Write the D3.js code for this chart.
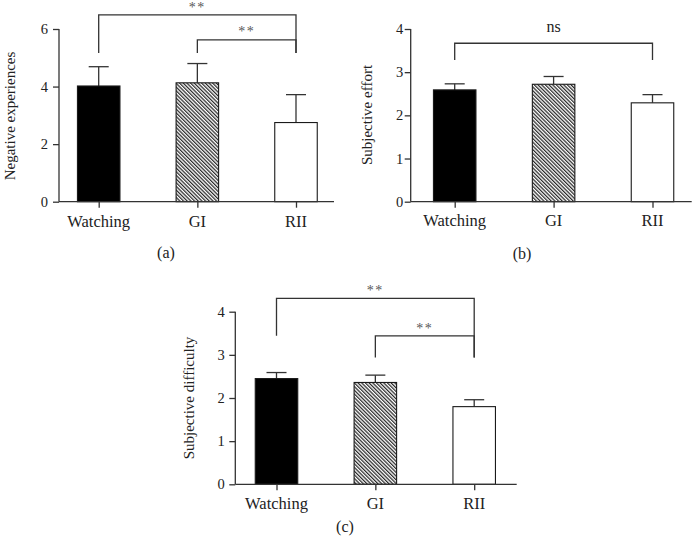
<!DOCTYPE html>
<html>
<head>
<meta charset="utf-8">
<script src="https://cdn.jsdelivr.net/npm/d3@7"></script>
<style>
  body { margin: 0; background: #fff; }
  text { font-family: "Liberation Serif", "DejaVu Serif", serif; fill: #222; }
</style>
</head>
<body>
<div id="viz"></div>
<script>
// data
var groups = ["Watching", "GI", "RII"];

var negMeans = [4.02, 4.13, 2.75];
var negErrs  = [0.67, 0.67, 0.97];
var negTicks = [0, 2, 4, 6];

var effortMeans = [2.59, 2.72, 2.29];
var effortErrs  = [0.14, 0.18, 0.19];
var effortTicks = [0, 1, 2, 3, 4];

var diffMeans = [2.45, 2.36, 1.80];
var diffErrs  = [0.14, 0.17, 0.16];
var diffTicks = [0, 1, 2, 3, 4];

// comparisons: [from, to, label]
var negComps    = [["Watching", "RII", "**"], ["GI", "RII", "**"]];
var effortComps = [["Watching", "RII", "ns"]];
var diffComps   = [["Watching", "RII", "**"], ["GI", "RII", "**"]];

var fills = ["#000", "url(#hatch)", "#fff"];

var W = 693, H = 544;
var svg = d3.select("#viz").append("svg")
    .attr("width", W).attr("height", H);

var pat = svg.append("defs").append("pattern")
    .attr("id", "hatch")
    .attr("patternUnits", "userSpaceOnUse")
    .attr("width", 2.6).attr("height", 2.6)
    .attr("patternTransform", "rotate(-45)");
pat.append("rect").attr("width", 2.6).attr("height", 2.6).attr("fill", "#fff");
pat.append("line").attr("x1", 0.6).attr("y1", 0).attr("x2", 0.6).attr("y2", 2.6)
    .attr("stroke", "#2a2a2a").attr("stroke-width", 1.3);

// panel layout (pixels); bracket levels in data units
var panels = [
  { means: negMeans, errs: negErrs, ticks: negTicks, comps: negComps,
    ymax: 6, left: 59, right: 334, top: 29, bottom: 201.7,
    p0: 98.7, p1: 296, labGap: 11, title: "Negative experiences", titleX: 10, titleY: 116,
    catY: 227, sub: "(a)", subX: 166, subY: 258,
    levels: [6.49, 5.62], legEnds: [[5.17, 5.17], [5.17, 5.17]], compY: [-2.5, -3.5] },
  { means: effortMeans, errs: effortErrs, ticks: effortTicks, comps: effortComps,
    ymax: 4, left: 410.7, right: 691.7, top: 29, bottom: 201.7,
    p0: 454.7, p1: 652.5, labGap: 7.5, title: "Subjective effort", titleX: 367, titleY: 115,
    catY: 226, sub: "(b)", subX: 522, subY: 259,
    levels: [3.67], legEnds: [[3.28, 3.28]], compY: [-11] },
  { means: diffMeans, errs: diffErrs, ticks: diffTicks, comps: diffComps,
    ymax: 4, left: 235.3, right: 516.7, top: 311.7, bottom: 484.3,
    p0: 276.5, p1: 474.2, labGap: 10.5, title: "Subjective difficulty", titleX: 189, titleY: 398,
    catY: 508.5, sub: "(c)", subX: 345, subY: 532,
    levels: [4.31, 3.44], legEnds: [[3.44, 2.94], [2.94, 2.94]], compY: [-3.5, -3] }
];

var axisColor = "#333";
var barW = 42.5;

panels.forEach(function(p) {
  var x = d3.scalePoint().domain(groups).range([p.p0, p.p1]);
  var y = d3.scaleLinear().domain([0, p.ymax]).range([p.bottom, p.top]);
  var g = svg.append("g");

  // bars
  groups.forEach(function(c, i) {
    var top = y(p.means[i]);
    // error bar (upper only)
    g.append("line")
      .attr("x1", x(c)).attr("x2", x(c))
      .attr("y1", top).attr("y2", y(p.means[i] + p.errs[i]))
      .attr("stroke", axisColor).attr("stroke-width", 1.3);
    g.append("line")
      .attr("x1", x(c) - 10).attr("x2", x(c) + 10)
      .attr("y1", y(p.means[i] + p.errs[i])).attr("y2", y(p.means[i] + p.errs[i]))
      .attr("stroke", axisColor).attr("stroke-width", 1.3);
    g.append("rect")
      .attr("x", x(c) - barW / 2).attr("y", top)
      .attr("width", barW).attr("height", y(0) - top)
      .attr("fill", fills[i])
      .attr("stroke", "#1a1a1a").attr("stroke-width", 1.1);
  });

  // y axis
  var ya = g.append("g").attr("transform", "translate(" + p.left + ",0)")
    .call(d3.axisLeft(y).tickValues(p.ticks).tickFormat(d3.format("d"))
      .tickSize(6).tickPadding(p.labGap - 6));
  ya.select(".domain").attr("stroke", axisColor).attr("stroke-width", 1.3)
    .attr("d", "M0," + y(p.ymax) + "V" + y(0));
  ya.selectAll(".tick line").attr("stroke", axisColor).attr("stroke-width", 1.3);
  ya.selectAll(".tick text").style("font-size", "14.5px")
    .style("font-family", "'Liberation Serif', serif").attr("fill", "#222");

  // x axis
  var xa = g.append("g").attr("transform", "translate(0," + p.bottom + ")")
    .call(d3.axisBottom(x).tickSize(6).tickFormat(""));
  xa.select(".domain").attr("stroke", axisColor).attr("stroke-width", 1.3)
    .attr("d", "M" + p.left + ",0H" + p.right);
  xa.selectAll(".tick line").attr("stroke", axisColor).attr("stroke-width", 1.3);

  groups.forEach(function(c) {
    g.append("text").attr("x", x(c)).attr("y", p.catY)
      .attr("text-anchor", "middle").style("font-size", "16.5px").text(c);
  });

  // titles
  g.append("text")
    .attr("transform", "translate(" + p.titleX + "," + p.titleY + ") rotate(-90)")
    .attr("text-anchor", "middle").attr("dy", "0.35em")
    .style("font-size", "15px").text(p.title);
  g.append("text").attr("x", p.subX).attr("y", p.subY)
    .attr("text-anchor", "middle").style("font-size", "16px").text(p.sub);

  // significance brackets
  p.comps.forEach(function(cmp, k) {
    var xa0 = x(cmp[0]), xa1 = x(cmp[1]);
    var yl = y(p.levels[k]);
    g.append("path")
      .attr("d", "M" + xa0 + "," + y(p.legEnds[k][0]) + "V" + yl + "H" + xa1 + "V" + y(p.legEnds[k][1]))
      .attr("fill", "none").attr("stroke", axisColor).attr("stroke-width", 1.3);
    var isStar = cmp[2] === "**";
    g.append("text")
      .attr("x", (xa0 + xa1) / 2).attr("y", yl + p.compY[k])
      .attr("text-anchor", "middle")
      .attr("letter-spacing", isStar ? "1.5px" : "0px")
      .attr("opacity", isStar ? 0.99 : 1)
      .style("font-size", isStar ? "14px" : "16px")
      .style("fill", isStar ? "#555" : "#222")
      .text(cmp[2]);
  });
});
</script>
</body>
</html>
